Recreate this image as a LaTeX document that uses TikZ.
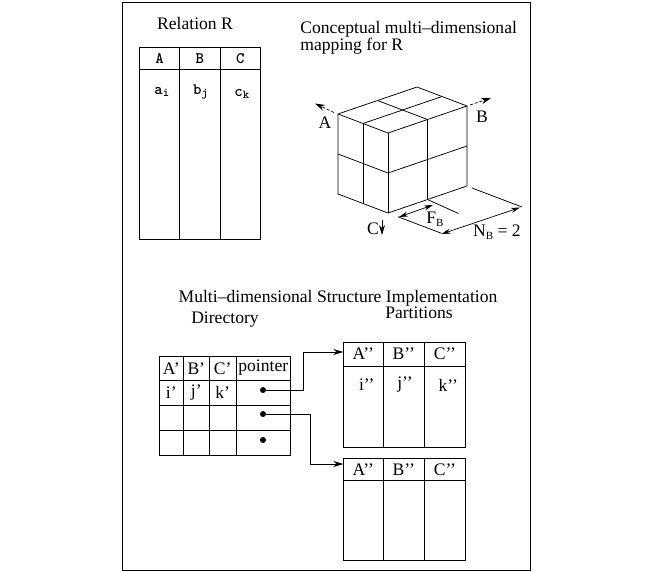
\documentclass[tikz,border=0pt]{standalone}
\usepackage{fontspec}
\setmainfont{Liberation Serif}
\usetikzlibrary{arrows.meta}
\newcommand\msub[1]{\raisebox{-2.5pt}{\fontsize{12}{12}\selectfont #1}}
\newcommand\tsub[1]{\raisebox{-3.5pt}{\fontsize{11}{11}\selectfont #1}}
\begin{document}
\begin{tikzpicture}[x=1pt,y=-1pt,line width=0.8pt,
 txt/.style={inner sep=0pt,font=\fontsize{17.6}{20}\selectfont},
 mono/.style={inner sep=0pt,font=\ttfamily\bfseries\fontsize{16}{17}\selectfont},
 tbl/.style={draw=black,line width=0.9pt},
 cube/.style={line width=0.75pt},
 arr/.style={-{Stealth[length=10pt,width=6pt]},line width=0.7pt},
 dbl/.style={{Stealth[length=9pt,width=5pt]}-{Stealth[length=9pt,width=5pt]},line width=0.7pt},
 ptr/.style={circle,fill=black,inner sep=0pt,minimum size=6pt}]
\useasboundingbox (0,0) rectangle (650,571);
\draw[line width=0.8pt] (122,2) rectangle (530,570);

% ---- Relation R
\node[txt] (relT) at (195,23) {Relation R};
\draw[tbl] (139.5,47.5) rectangle (260.5,239.5);
\draw[tbl] (139.5,69.5) -- (260.5,69.5);
\draw[tbl] (179.5,47.5) -- (179.5,239.5);
\draw[tbl] (220,47.5) -- (220,239.5);
\node[mono] (hA) at (159.5,58.5) {A};
\node[mono] (hB) at (199.8,58.5) {B};
\node[mono] (hC) at (240.2,58.5) {C};
\node[mono,anchor=base] (ai) at (161.7,94) {a\msub{i}};
\node[mono,anchor=base] (bj) at (200.5,94) {b\msub{j}};
\node[mono,anchor=base] (ck) at (241.7,96) {c\msub{k}};

% ---- Conceptual mapping
\node[txt,anchor=base west] (c1) at (300,33) {Conceptual multi--dimensional};
\node[txt,anchor=base west] (c2) at (300,50.5) {mapping for R};

\coordinate (O) at (388,213);
\coordinate (F) at (388,133);
\coordinate (L) at (338,114);
\coordinate (R) at (467,106);
\coordinate (Bk) at (417,87);
\coordinate (Lb) at (338,194);
\coordinate (Rb) at (467,186);
\draw[cube] (L) -- (Bk) -- (R) -- (F) -- cycle;
\draw[cube] (L) -- (Lb) -- (O) -- (Rb) -- (R);
\draw[cube] (F) -- (O);
\draw[cube] (363,123.5) -- (442,96.5);
\draw[cube] (427.5,119.5) -- (377.5,100.5);
\draw[cube] (363,123.5) -- (363,203.5);
\draw[cube] (338,154) -- (388,173) -- (467,146);
\draw[cube] (427.5,119.5) -- (427.5,199.5) -- (458.5,213.5);
\draw[cube] (398,216.8) -- (441.5,233.3);
\draw[cube] (472,188) -- (522,207);
\draw[dbl] (399,217) -- (433,205);
\draw[dbl] (441.5,234) -- (520,207.5);

\coordinate (aS) at (334,112.5); \coordinate (aE) at (315,103.5);
\coordinate (bS) at (470,105);   \coordinate (bE) at (491,98);
\coordinate (cS) at (382,220);   \coordinate (cE) at (382,235);
\draw[arr,dash pattern=on 3pt off 2pt] (aS) -- (aE);
\draw[arr,dash pattern=on 3pt off 2pt] (bS) -- (bE);
\draw[arr] (cS) -- (cE);
\node[txt] (lA) at (325,123) {A};
\node[txt] (lB) at (482,117) {B};
\node[txt] (lC) at (373,229) {C};
\node[txt] (lF) at (435,219) {F\tsub{B}};
\node[txt] (lN) at (497,232) {N\tsub{B} = 2};

% ---- Implementation
\node[txt,anchor=base] (mT) at (338,302) {Multi--dimensional Structure Implementation};
\node[txt,anchor=base] (dT) at (225,323) {Directory};
\node[txt,anchor=base] (pT) at (419,318.5) {Partitions};

% directory table
\draw[tbl] (159.3,356) rectangle (290.7,455.7);
\foreach \yy in {380.7,405,430} \draw[tbl] (159.3,\yy) -- (290.7,\yy);
\foreach \xx in {183.3,209.3,236} \draw[tbl] (\xx,356) -- (\xx,455.7);
\node[txt] (dA) at (171.3,368.5) {A’};
\node[txt] (dB) at (196.3,368.5) {B’};
\node[txt] (dC) at (222.7,368.5) {C’};
\node[txt] (dP) at (263.3,368) {pointer};
\node[txt] (di) at (171.3,392.5) {i’};
\node[txt] (dj) at (196.3,392.5) {j’};
\node[txt] (dk) at (222.7,392.5) {k’};
\node[ptr] (d1) at (263,390) {};
\node[ptr] (d2) at (263,414) {};
\node[ptr] (d3) at (263,440) {};

% partition 1
\draw[tbl] (343.3,342) rectangle (465.7,447.3);
\draw[tbl] (343.3,366) -- (465.7,366);
\draw[tbl] (383.3,342) -- (383.3,447.3);
\draw[tbl] (424.3,342) -- (424.3,447.3);
\node[txt] (p1A) at (363.3,354) {A’’};
\node[txt] (p1B) at (403.8,354) {B’’};
\node[txt] (p1C) at (445,354) {C’’};
\node[txt] (p1i) at (366.7,385) {i’’};
\node[txt] (p1j) at (405,385) {j’’};
\node[txt] (p1k) at (448.3,385) {k’’};
\coordinate (p1w) at (343.3,352);

% partition 2
\draw[tbl] (343.3,458.3) rectangle (465.7,560.7);
\draw[tbl] (343.3,480) -- (465.7,480);
\draw[tbl] (383.3,458.3) -- (383.3,560.7);
\draw[tbl] (424.3,458.3) -- (424.3,560.7);
\node[txt] (p2A) at (363.3,470) {A’’};
\node[txt] (p2B) at (403.8,470) {B’’};
\node[txt] (p2C) at (445,470) {C’’};
\coordinate (p2w) at (343.3,464);

\draw[arr] (d1.center) -- (303.3,390) |- (p1w);
\draw[arr] (d2.center) -- (310,414) |- (p2w);
\end{tikzpicture}
\end{document}
